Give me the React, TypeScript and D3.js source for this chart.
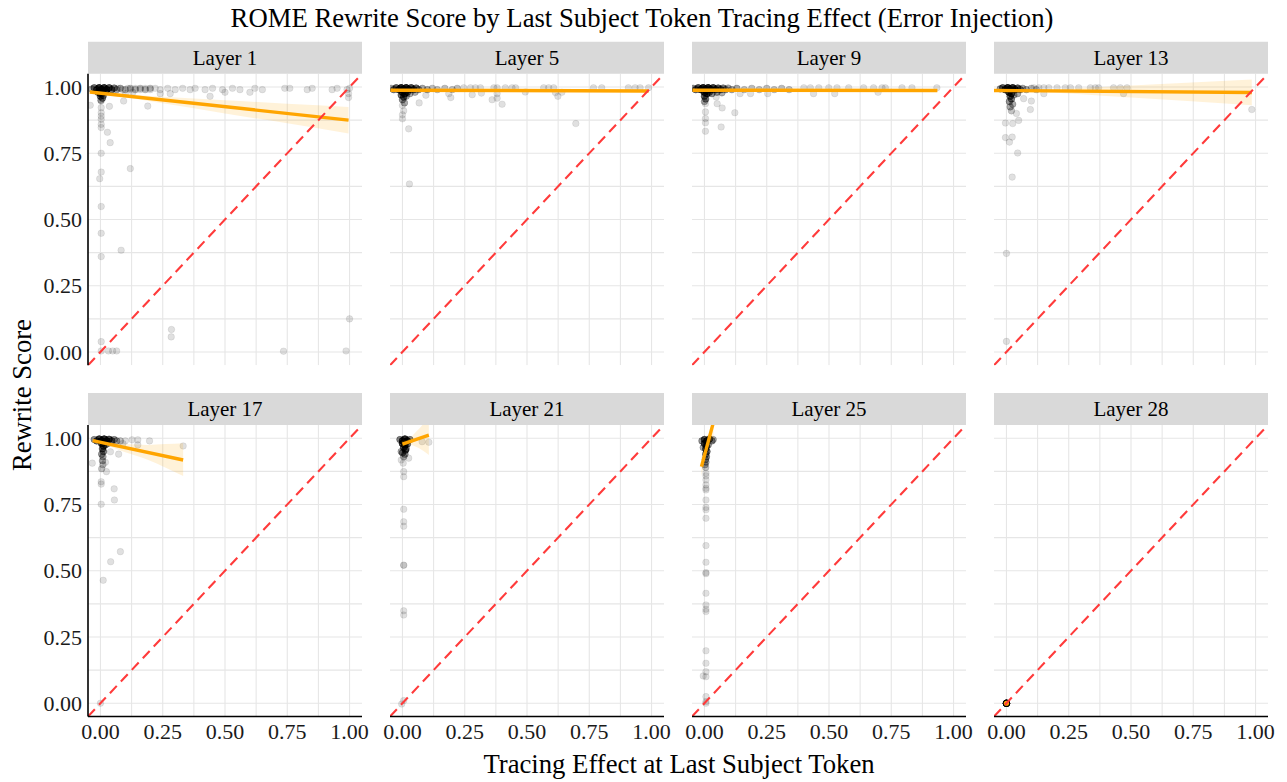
import React from 'react';
import * as d3 from 'd3';

const layerNames = ['Layer 1', 'Layer 5', 'Layer 9', 'Layer 13', 'Layer 17', 'Layer 21', 'Layer 25', 'Layer 28'];
const tickValues = [0, 0.25, 0.5, 0.75, 1];
const gridValues = [0, 0.125, 0.25, 0.375, 0.5, 0.625, 0.75, 0.875, 1];

// isolated points [tracing effect, rewrite score]
const layer1Points: [number, number][] = [
  [0.07, 0.995], [0.09, 0.99], [0.11, 0.995], [0.12, 0.99], [0.14, 0.995], [0.16, 0.99], [0.18, 0.995], [0.2, 0.99],
  [0.22, 0.995], [0.24, 0.99], [0.27, 0.995], [0.3, 0.99], [0.33, 0.995], [0.36, 0.99], [0.38, 0.995], [0.42, 0.99],
  [0.45, 0.995], [0.49, 0.99], [0.53, 0.995], [0.56, 0.99], [0.62, 0.995], [0.65, 0.99], [0.74, 0.995], [0.76, 0.995],
  [0.83, 0.99], [0.85, 0.995], [0.93, 0.99], [0.95, 0.995], [0.99, 0.99], [1.0, 0.995],
  [0.1, 0.975], [0.13, 0.98], [0.19, 0.928], [0.24, 0.975], [0.28, 0.975], [0.44, 0.965], [0.5, 0.98], [0.6, 0.98],
  [0.996, 0.975], [0.996, 0.96], [-0.041, 0.931], [0.036, 0.927], [0.093, 0.947], [0.028, 0.829], [0.039, 0.79],
  [0.12, 0.692], [0.083, 0.384],
  [0.003, 0.947], [0.003, 0.922], [0.003, 0.903], [0.003, 0.89], [0.003, 0.878], [0.003, 0.859], [0.003, 0.847],
  [0.003, 0.75], [0.003, 0.679], [-0.003, 0.654], [0.003, 0.549], [0.003, 0.448], [0.003, 0.36], [0.003, 0.039],
  [0.003, 0.004], [0.032, 0.004], [0.049, 0.004], [0.065, 0.004],
  [0.285, 0.085], [0.284, 0.057], [0.735, 0.003], [0.986, 0.004], [1.0, 0.125],
];
const layer5Points: [number, number][] = [
  [0.246, 0.997], [0.273, 0.997], [0.293, 0.997], [0.313, 0.997], [0.367, 0.997], [0.38, 0.997], [0.413, 0.997],
  [0.44, 0.997], [0.454, 0.997], [0.567, 0.997], [0.587, 0.997], [0.607, 0.997], [0.767, 0.997], [0.8, 0.997],
  [0.907, 0.997], [0.934, 0.997], [0.954, 0.997], [0.988, 0.997],
  [0.025, 0.842], [0.028, 0.634], [0.067, 0.94], [0.094, 0.969], [0.186, 0.975], [0.194, 0.96], [0.28, 0.971],
  [0.317, 0.977], [0.36, 0.952], [0.38, 0.958], [0.4, 0.935], [0.38, 0.975], [0.493, 0.981], [0.614, 0.979],
  [0.624, 0.965], [0.64, 0.98], [0.696, 0.862],
  [0.0, 0.93], [0.005, 0.91], [0.0, 0.895], [0.0, 0.88],
];
const layer9Points: [number, number][] = [
  [0.399, 0.997], [0.425, 0.997], [0.459, 0.997], [0.499, 0.997], [0.532, 0.997], [0.579, 0.997], [0.639, 0.997],
  [0.679, 0.997], [0.713, 0.997], [0.726, 0.997], [0.793, 0.997], [0.833, 0.997], [0.933, 0.997],
  [0.004, 0.937], [0.004, 0.906], [0.004, 0.881], [0.004, 0.865], [0.004, 0.833], [0.067, 0.849], [0.071, 0.921],
  [0.051, 0.937], [0.047, 0.962], [0.122, 0.903], [0.254, 0.975], [0.438, 0.975], [0.523, 0.975], [0.697, 0.98],
  [0.143, 0.975], [0.185, 0.975],
];
const layer13Points: [number, number][] = [
  [0.11, 0.997], [0.13, 0.997], [0.15, 0.997], [0.17, 0.997], [0.203, 0.997], [0.236, 0.997], [0.257, 0.997],
  [0.29, 0.997], [0.337, 0.997], [0.357, 0.997], [0.37, 0.997], [0.43, 0.997], [0.457, 0.997], [0.484, 0.997],
  [0.47, 0.975],
  [-0.004, 0.864], [0.025, 0.862], [-0.004, 0.809], [0.023, 0.811], [0.012, 0.792], [0.045, 0.751], [0.023, 0.66],
  [0.049, 0.874], [0.04, 0.9], [0.096, 0.915], [0.069, 0.956], [0.1, 0.947], [0.15, 0.975], [0.985, 0.915],
  [0.0, 0.372], [0.0, 0.04],
];
const layer17Points: [number, number][] = [
  [-0.033, 0.906], [0.02, 0.909], [0.024, 0.874], [0.003, 0.836], [0.003, 0.827], [0.055, 0.809], [0.056, 0.767],
  [0.003, 0.751], [0.08, 0.572], [0.041, 0.534], [0.011, 0.464], [0.127, 0.994], [0.15, 0.994], [0.197, 0.99],
  [0.15, 0.975], [0.073, 0.94], [0.04, 0.949], [0.332, 0.971], [0.1, 0.99], [0.09, 0.98], [0.0, 0.0],
];
const layer21Points: [number, number][] = [
  [0.079, 0.987], [0.106, 0.985], [0.025, 0.925], [-0.005, 0.918], [0.003, 0.906], [0.005, 0.874], [0.005, 0.855],
  [0.005, 0.732], [0.005, 0.685], [0.005, 0.668], [0.005, 0.521], [0.005, 0.521], [0.005, 0.349], [0.005, 0.333],
  [0.005, 0.01], [-0.003, -0.003],
];
const layer25Points: [number, number][] = [
  [0.006, 0.868], [0.006, 0.858], [0.006, 0.843], [0.006, 0.824], [0.006, 0.811], [0.006, 0.805], [0.006, 0.767],
  [0.006, 0.739], [0.006, 0.73], [0.006, 0.698], [0.006, 0.595], [0.006, 0.532], [0.006, 0.493], [0.006, 0.489],
  [0.006, 0.415], [0.006, 0.371], [0.006, 0.355], [0.006, 0.346], [0.006, 0.198], [0.006, 0.151], [0.006, 0.119],
  [0.006, 0.1], [0.006, 0.025], [0.006, 0.006], [0.006, 0.0], [-0.005, 0.103], [0.035, 0.994],
];
const layer28Points: [number, number][] = [];

// dense clusters [tracing effect, rewrite score, count]
const layer1Dense: [number, number, number][] = [
  [-0.035, 0.992, 3], [-0.025, 0.997, 6], [-0.015, 0.99, 8], [-0.005, 0.997, 12], [0.005, 0.99, 14], [0.015, 0.997, 12],
  [0.025, 0.99, 10], [0.035, 0.997, 8], [0.045, 0.99, 6], [0.055, 0.996, 5], [0.065, 0.99, 3],
  [-0.01, 0.98, 6], [0.0, 0.975, 8], [0.01, 0.978, 8], [0.02, 0.982, 5], [0.0, 0.965, 6], [0.008, 0.958, 5],
  [0.002, 0.95, 3], [0.012, 0.968, 4],
  [0.08, 0.995, 3], [0.1, 0.99, 2], [0.12, 0.995, 2], [0.14, 0.99, 2], [0.16, 0.995, 2], [0.18, 0.99, 2], [0.2, 0.995, 2],
];
const layer5Dense: [number, number, number][] = [
  [-0.045, 0.995, 3], [-0.035, 0.99, 5], [-0.025, 0.997, 7], [-0.015, 0.99, 9], [-0.005, 0.997, 14], [0.005, 0.99, 16],
  [0.015, 0.997, 14], [0.025, 0.99, 12], [0.035, 0.997, 9], [0.045, 0.99, 7], [0.055, 0.996, 6], [0.065, 0.99, 4],
  [0.08, 0.995, 3],
  [0.0, 0.98, 10], [0.01, 0.975, 8], [0.02, 0.98, 6], [-0.005, 0.97, 6], [0.005, 0.962, 6], [0.0, 0.952, 4],
  [0.008, 0.94, 3], [0.015, 0.965, 3], [0.03, 0.975, 3], [0.05, 0.98, 3],
  [0.1, 0.99, 3], [0.12, 0.995, 2], [0.14, 0.99, 2], [0.17, 0.995, 2], [0.2, 0.99, 2], [0.22, 0.995, 2],
];
const layer9Dense: [number, number, number][] = [
  [-0.045, 0.995, 4], [-0.035, 0.99, 6], [-0.025, 0.997, 8], [-0.015, 0.99, 10], [-0.005, 0.997, 14], [0.005, 0.99, 16],
  [0.015, 0.997, 14], [0.025, 0.99, 12], [0.035, 0.997, 10], [0.045, 0.99, 8], [0.055, 0.996, 7], [0.065, 0.99, 6],
  [0.075, 0.996, 5], [0.085, 0.99, 4], [0.095, 0.996, 3],
  [0.0, 0.98, 10], [0.01, 0.975, 8], [0.02, 0.98, 6], [0.0, 0.965, 6], [0.005, 0.955, 5], [0.0, 0.945, 3],
  [0.03, 0.975, 4], [0.05, 0.98, 4], [0.07, 0.978, 3],
  [0.11, 0.99, 3], [0.13, 0.995, 3], [0.16, 0.99, 2], [0.19, 0.995, 2], [0.22, 0.99, 2], [0.25, 0.995, 2],
  [0.28, 0.99, 2], [0.31, 0.995, 2], [0.34, 0.99, 2],
];
const layer13Dense: [number, number, number][] = [
  [-0.025, 0.993, 4], [-0.015, 0.997, 7], [-0.005, 0.99, 10], [0.005, 0.997, 14], [0.015, 0.99, 14], [0.025, 0.997, 12],
  [0.035, 0.99, 10], [0.045, 0.996, 7], [0.055, 0.99, 5], [0.065, 0.995, 3],
  [0.01, 0.98, 10], [0.02, 0.975, 8], [0.015, 0.965, 6], [0.02, 0.955, 5], [0.012, 0.945, 4], [0.025, 0.935, 3],
  [0.015, 0.925, 3], [0.02, 0.91, 2], [0.03, 0.97, 3], [0.045, 0.975, 3],
  [0.08, 0.99, 3], [0.1, 0.995, 2], [0.12, 0.99, 2],
];
const layer17Dense: [number, number, number][] = [
  [-0.025, 0.995, 4], [-0.015, 0.99, 6], [-0.005, 0.997, 10], [0.005, 0.99, 14], [0.015, 0.997, 12], [0.025, 0.99, 10],
  [0.035, 0.996, 8], [0.045, 0.99, 6], [0.055, 0.995, 4], [0.065, 0.99, 3],
  [0.005, 0.98, 10], [0.012, 0.97, 8], [0.008, 0.96, 6], [0.012, 0.95, 5], [0.005, 0.94, 4], [0.01, 0.93, 3],
  [0.008, 0.915, 3], [0.01, 0.9, 2], [0.005, 0.885, 2], [0.02, 0.975, 4], [0.03, 0.98, 3], [0.08, 0.99, 2],
];
const layer21Dense: [number, number, number][] = [
  [-0.01, 0.995, 5], [0.0, 0.99, 10], [0.01, 0.997, 12], [0.02, 0.99, 10], [0.03, 0.995, 5],
  [0.0, 0.98, 10], [0.01, 0.975, 10], [0.02, 0.978, 6], [0.005, 0.965, 8], [0.012, 0.955, 7], [0.0, 0.945, 5],
  [0.01, 0.94, 4], [0.005, 0.93, 3], [0.015, 0.96, 4], [-0.005, 0.95, 3],
];
const layer25Dense: [number, number, number][] = [
  [-0.01, 0.99, 4], [0.0, 0.995, 8], [0.01, 0.99, 10], [0.02, 0.997, 8], [0.03, 0.99, 4], [0.035, 0.995, 2],
  [0.0, 0.98, 8], [0.008, 0.97, 8], [0.005, 0.96, 7], [0.01, 0.95, 6], [0.005, 0.94, 5], [0.008, 0.93, 4],
  [0.004, 0.92, 4], [0.006, 0.91, 3], [0.002, 0.9, 3], [0.005, 0.89, 2], [-0.005, 0.965, 3], [0.015, 0.975, 4],
];
const layer28Dense: [number, number, number][] = [[0, 0, 40]];

// linear fit: endpoints, and confidence band [x, lower, upper]
const layer1Fit: [number, number][] = [[-0.043, 0.981], [0.996, 0.875]];
const layer5Fit: [number, number][] = [[-0.048, 0.988], [0.988, 0.985]];
const layer9Fit: [number, number][] = [[-0.048, 0.988], [0.935, 0.987]];
const layer13Fit: [number, number][] = [[-0.05, 0.987], [0.985, 0.979]];
const layer17Fit: [number, number][] = [[-0.031, 0.991], [0.332, 0.918]];
const layer21Fit: [number, number][] = [[0.0, 0.978], [0.106, 1.012]];
const layer25Fit: [number, number][] = [[-0.012, 0.893], [0.036, 1.06]];
const layer28Fit: [number, number][] = [[0, 0], [0, 0]];

const layer1Band: [number, number, number][] = [
  [-0.043, 0.975, 0.987], [0.05, 0.966, 0.977], [0.25, 0.939, 0.963], [0.5, 0.9, 0.95], [0.75, 0.863, 0.937], [0.996, 0.825, 0.925],
];
const layer5Band: [number, number, number][] = [[-0.048, 0.985, 0.991], [0.4, 0.985, 0.989], [0.988, 0.979, 0.991]];
const layer9Band: [number, number, number][] = [[-0.048, 0.985, 0.991], [0.4, 0.986, 0.989], [0.935, 0.982, 0.992]];
const layer13Band: [number, number, number][] = [
  [-0.05, 0.982, 0.992], [0.1, 0.981, 0.991], [0.5, 0.96, 1.006], [0.985, 0.931, 1.028],
];
const layer17Band: [number, number, number][] = [
  [-0.031, 0.984, 0.998], [0.02, 0.975, 0.986], [0.1, 0.947, 0.978], [0.187, 0.92, 0.975], [0.26, 0.89, 0.978], [0.332, 0.858, 0.981],
];
const layer21Band: [number, number, number][] = [
  [-0.003, 0.966, 0.99], [0.02, 0.977, 0.993], [0.05, 0.97, 1.02], [0.08, 0.955, 1.05], [0.106, 0.937, 1.09],
];
const layer25Band: [number, number, number][] = [
  [-0.012, 0.855, 0.93], [0.0, 0.912, 0.948], [0.012, 0.955, 0.975], [0.025, 0.985, 1.02], [0.036, 1.0, 1.12],
];
const layer28Band: [number, number, number][] = [];

const allPoints = [layer1Points, layer5Points, layer9Points, layer13Points, layer17Points, layer21Points, layer25Points, layer28Points];
const allDense = [layer1Dense, layer5Dense, layer9Dense, layer13Dense, layer17Dense, layer21Dense, layer25Dense, layer28Dense];
const allFits = [layer1Fit, layer5Fit, layer9Fit, layer13Fit, layer17Fit, layer21Fit, layer25Fit, layer28Fit];
const allBands = [layer1Band, layer5Band, layer9Band, layer13Band, layer17Band, layer21Band, layer25Band, layer28Band];

const FONT = '"Liberation Serif", "Times New Roman", serif';

export default function App() {
  const W = 1287, H = 782;
  const colX = [88, 390, 692, 994];
  const rowY = [73.75, 425];
  const pw = 274, ph = 291.5;
  const stripH = 32;
  const domain: [number, number] = [-0.05, 1.05];

  const panels = layerNames.map((name, i) => {
    const col = i % 4, row = Math.floor(i / 4);
    const x0 = colX[col], y0 = rowY[row];
    const xs = d3.scaleLinear().domain(domain).range([x0, x0 + pw]);
    const ys = d3.scaleLinear().domain(domain).range([y0 + ph, y0]);
    const area = d3.area<[number, number, number]>()
      .x(d => xs(d[0])).y0(d => ys(d[1])).y1(d => ys(d[2])).curve(d3.curveMonotoneX);
    const line = d3.line<[number, number]>().x(d => xs(d[0])).y(d => ys(d[1]));
    const pts: [number, number][] = [];
    allDense[i].forEach(([x, y, n]) => { for (let k = 0; k < n; k++) pts.push([x, y]); });
    allPoints[i].forEach(p => pts.push(p));
    const fit = allFits[i];
    const isPoint = fit[0][0] === fit[1][0] && fit[0][1] === fit[1][1];
    return (
      <g key={name}>
        <defs>
          <clipPath id={`clip${i}`}>
            <rect x={x0} y={y0} width={pw} height={ph} />
          </clipPath>
        </defs>
        <rect x={x0} y={y0 - stripH} width={pw} height={stripH} fill="#D9D9D9" />
        <text x={x0 + pw / 2} y={y0 - 9} textAnchor="middle" fontFamily={FONT} fontSize={21} fill="#000">{name}</text>
        <g clipPath={`url(#clip${i})`}>
          {gridValues.map(g => (
            <line key={'gx' + g} x1={xs(g)} x2={xs(g)} y1={y0} y2={y0 + ph} stroke="#E6E6E6" strokeWidth={1.1} />
          ))}
          {gridValues.map(g => (
            <line key={'gy' + g} x1={x0} x2={x0 + pw} y1={ys(g)} y2={ys(g)} stroke="#E6E6E6" strokeWidth={1.1} />
          ))}
          {pts.map((p, k) => (
            <circle key={'p' + k} cx={xs(p[0])} cy={ys(p[1])} r={3.3} fill="#000" fillOpacity={0.12}
              stroke="#000" strokeOpacity={0.1} strokeWidth={0.7} />
          ))}
          {allBands[i].length > 0 && <path d={area(allBands[i]) || ''} fill="#FFA500" fillOpacity={0.15} />}
          {isPoint ? (
            <circle cx={xs(fit[0][0])} cy={ys(fit[0][1])} r={2.6} fill="#FFA500" />
          ) : (
            <path d={line(fit) || ''} stroke="#FFA500" strokeWidth={3.4} fill="none" />
          )}
          <line x1={xs(domain[0])} y1={ys(domain[0])} x2={xs(domain[1])} y2={ys(domain[1])}
            stroke="#FF3B3B" strokeWidth={2.1} strokeDasharray="10,6" />
        </g>
        {col === 0 && (
          <g>
            <line x1={x0} x2={x0} y1={y0} y2={y0 + ph} stroke="#000" strokeWidth={1.6} />
            {tickValues.map(t => (
              <text key={'yt' + t} x={x0 - 6} y={ys(t)} dy="0.35em" textAnchor="end" fontFamily={FONT} fontSize={22} fill="#1a1a1a">
                {t.toFixed(2)}
              </text>
            ))}
          </g>
        )}
        {row === 1 && (
          <g>
            <line x1={x0} x2={x0 + pw} y1={y0 + ph} y2={y0 + ph} stroke="#000" strokeWidth={1.6} />
            {tickValues.map(t => (
              <text key={'xt' + t} x={xs(t)} y={y0 + ph + 22} textAnchor="middle" fontFamily={FONT} fontSize={22} fill="#1a1a1a">
                {t.toFixed(2)}
              </text>
            ))}
          </g>
        )}
      </g>
    );
  });

  return (
    <svg width={W} height={H} style={{ position: 'absolute', left: 0, top: 0, background: '#fff' }}>
      <rect x={0} y={0} width={W} height={H} fill="#fff" />
      <text x={642} y={27} textAnchor="middle" fontFamily={FONT} fontSize={26.7} fill="#000">
        ROME Rewrite Score by Last Subject Token Tracing Effect (Error Injection)
      </text>
      {panels}
      <text x={679} y={773} textAnchor="middle" fontFamily={FONT} fontSize={26.7} fill="#000">
        Tracing Effect at Last Subject Token
      </text>
      <text transform="translate(31,395) rotate(-90)" textAnchor="middle" fontFamily={FONT} fontSize={26.7} fill="#000">
        Rewrite Score
      </text>
    </svg>
  );
}
